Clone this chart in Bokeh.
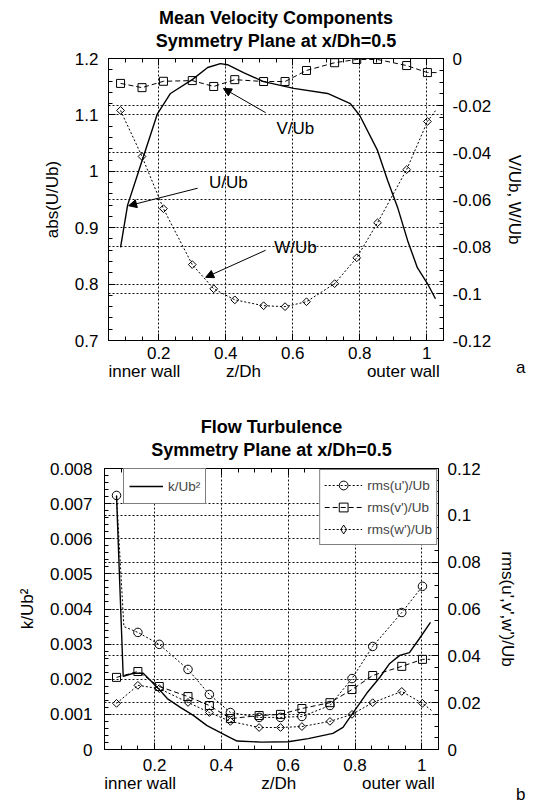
import numpy as np
from bokeh.plotting import figure
from bokeh.models import (Range1d, LinearAxis, FixedTicker, CustomJSTickFormatter, Grid, Title,
                          Arrow, NormalHead, Legend, LegendItem, Div, Label)
from bokeh.layouts import column, row
from bokeh.embed import file_html
from bokeh.resources import INLINE

FONT = "Liberation Sans"

# ---------------- data: top chart (mean velocities) ----------------
z_pts = [0.086, 0.150, 0.214, 0.300, 0.364, 0.427, 0.513, 0.577, 0.641, 0.725, 0.791, 0.853, 0.940, 1.002]
v_ub = [-0.0106, -0.0124, -0.0097, -0.0094, -0.0119, -0.0090, -0.0098, -0.0098, -0.0051, -0.0018,
        -0.0004, -0.0004, -0.0030, -0.0060]
w_ub = [-0.0221, -0.0417, -0.0639, -0.0877, -0.0980, -0.1027, -0.1052, -0.1056, -0.1035, -0.0958,
        -0.0848, -0.0699, -0.0473, -0.0268]
v_tail = (1.030, -0.0060)
w_tail = (1.026, -0.0222)

z_u = [0.086, 0.107, 0.140, 0.196, 0.235, 0.301, 0.346, 0.384, 0.405, 0.453, 0.513, 0.603, 0.704,
       0.772, 0.800, 0.853, 0.883, 0.913, 0.943, 0.972, 1.002, 1.026]
u_ub = [0.865, 0.940, 1.000, 1.102, 1.138, 1.163, 1.184, 1.191, 1.189, 1.175, 1.159, 1.147, 1.138,
        1.120, 1.099, 1.037, 0.984, 0.936, 0.877, 0.829, 0.801, 0.774]

# ---------------- data: bottom chart (turbulence) ----------------
rms_u = [0.1085, 0.0500, 0.0449, 0.0342, 0.0235, 0.0158, 0.0137, 0.0137, 0.0141, 0.0188, 0.0303,
         0.0440, 0.0585, 0.0697]
rms_v = [0.0308, 0.0333, 0.0269, 0.0226, 0.0188, 0.0132, 0.0145, 0.0150, 0.0175, 0.0200, 0.0256,
         0.0316, 0.0355, 0.0385]
rms_w = [0.0197, 0.0274, 0.0260, 0.0201, 0.0158, 0.0120, 0.0094, 0.0094, 0.0098, 0.0120, 0.0150,
         0.0200, 0.0248, 0.0197]
u_knee = (0.108, 0.0525)
v_tail2 = (1.025, 0.0385)
w_tail2 = (1.029, 0.0167)

z_k = [0.086, 0.106, 0.137, 0.166, 0.187, 0.211, 0.238, 0.277, 0.316, 0.357, 0.426, 0.447, 0.520,
       0.600, 0.660, 0.734, 0.764, 0.793, 0.835, 0.874, 0.904, 0.934, 0.963, 0.993, 1.026]
k_ub2 = [0.00722, 0.00208, 0.00217, 0.00217, 0.00197, 0.00174, 0.00145, 0.00120, 0.00097, 0.00068,
         0.00034, 0.00024, 0.00021, 0.00022, 0.00031, 0.00046, 0.00063, 0.00103, 0.00160, 0.00205,
         0.00245, 0.00268, 0.00276, 0.00316, 0.00362]

# ---------------- ticks / tick labels ----------------
x_ticks = [0.2, 0.4, 0.6, 0.8, 1.0]
top_left_ticks = [0.7, 0.8, 0.9, 1.0, 1.1, 1.2]
top_right_ticks = [-0.12, -0.1, -0.08, -0.06, -0.04, -0.02, 0.0]
bot_left_ticks = [0.0, 0.001, 0.002, 0.003, 0.004, 0.005, 0.006, 0.007, 0.008]
bot_right_ticks = [0.0, 0.02, 0.04, 0.06, 0.08, 0.1, 0.12]
wall_names = ["inner wall", "z/Dh", "outer wall"]
wall_pos_top = [0.157, 0.453, 0.930]
wall_pos_bot = [0.157, 0.572, 0.930]


def minors(lo, hi, step):
    n = int(round((hi - lo) / step))
    return [round(lo + i * step, 8) for i in range(n + 1)]


fmt_code = "return String(parseFloat(tick.toFixed(6)));"


def style_axis(ax, size="17px", standoff=10, labels=True):
    ax.major_tick_in = 7
    ax.major_tick_out = 0
    ax.minor_tick_in = 4
    ax.minor_tick_out = 0
    ax.axis_line_color = "black"
    ax.major_tick_line_color = "black"
    ax.minor_tick_line_color = "black"
    ax.major_label_text_font = FONT
    ax.major_label_text_color = "black"
    ax.major_label_standoff = standoff
    ax.axis_label_text_font = FONT
    ax.axis_label_text_font_size = "17px"
    ax.axis_label_text_font_style = "normal"
    ax.axis_label_text_color = "black"
    if labels:
        ax.major_label_text_font_size = size
    else:
        ax.major_label_text_font_size = "0px"
        ax.major_label_standoff = 0


def make_frame(p, xt, lt, rt, right_range, left_label, right_label,
               xstand, lstand, rstand, l_lab_stand, r_lab_stand, wall_pos, wall_stand,
               title_lines, title_offset, title_stands):
    p.extra_y_ranges = {"right": right_range, "hidden": Range1d(10.0, 11.0)}
    ax = p.xaxis[0]
    ax.ticker = xt
    ax.formatter = CustomJSTickFormatter(code=fmt_code)
    style_axis(ax, standoff=xstand)
    aw = LinearAxis(ticker=FixedTicker(ticks=wall_pos, minor_ticks=[]),
                    formatter=CustomJSTickFormatter(args=dict(names=wall_names), code="return names[index];"))
    style_axis(aw, standoff=wall_stand)
    aw.axis_line_color = None
    aw.major_tick_line_color = None
    aw.minor_tick_line_color = None
    p.add_layout(aw, "below")
    ay = p.yaxis[0]
    ay.ticker = lt
    ay.formatter = CustomJSTickFormatter(code=fmt_code)
    ay.axis_label = left_label
    style_axis(ay, standoff=lstand)
    ay.axis_label_standoff = l_lab_stand
    ar = LinearAxis(y_range_name="right", ticker=rt, formatter=CustomJSTickFormatter(code=fmt_code),
                    axis_label=right_label)
    style_axis(ar, standoff=rstand)
    ar.axis_label_standoff = r_lab_stand
    p.add_layout(ar, "right")
    # mirrored tick marks along the top edge (no labels)
    at = LinearAxis(ticker=xt, formatter=CustomJSTickFormatter(code="return '';"))
    style_axis(at, labels=False)
    p.add_layout(at, "above")
    for text, st in zip(reversed(title_lines), reversed(title_stands)):
        p.add_layout(Title(text=text, align="center", offset=title_offset, standoff=st,
                           text_font=FONT, text_font_size="18px", text_font_style="bold",
                           text_color="black"), "above")
    for g in (p.xgrid[0], p.ygrid[0]):
        g.grid_line_color = "#111111"
        g.grid_line_dash = "2 2"
        g.grid_line_width = 1
    p.xgrid[0].ticker = xt
    p.ygrid[0].ticker = lt
    p.add_layout(Grid(dimension=1, ticker=rt, y_range_name="right",
                      grid_line_color="#111111", grid_line_dash="2 2", grid_line_width=1))
    p.outline_line_color = "black"
    p.outline_line_width = 1
    p.background_fill_color = "white"
    p.border_fill_color = "white"


def lab(p, x, y, text):
    p.add_layout(Label(x=x, y=y, text=text, text_font=FONT, text_font_size="17px",
                       text_color="black", text_align="center", text_baseline="middle"))


# ================= TOP FIGURE =================
p1 = figure(width=530, height=406, output_backend="svg", toolbar_location=None,
            x_range=Range1d(0.05, 1.05), y_range=Range1d(0.7, 1.2),
            min_border_left=108, min_border_right=87, min_border_top=58, min_border_bottom=66)
xt1 = FixedTicker(ticks=x_ticks, minor_ticks=minors(0.05, 1.05, 0.05))
lt1 = FixedTicker(ticks=top_left_ticks, minor_ticks=minors(0.7, 1.2, 0.02))
rt1 = FixedTicker(ticks=top_right_ticks, minor_ticks=minors(-0.12, 0.0, 0.005))
make_frame(p1, xt1, lt1, rt1, Range1d(-0.12, 0.0), "abs(U/Ub)", "V/Ub, W/Ub",
           xstand=6, lstand=10, rstand=9, l_lab_stand=10, r_lab_stand=11,
           wall_pos=wall_pos_top, wall_stand=0,
           title_lines=["Mean Velocity Components", "Symmetry Plane at x/Dh=0.5"],
           title_offset=-14, title_stands=[-14, 16])

p1.line(z_u, u_ub, line_color="black", line_width=1.4)
p1.line(z_pts + [v_tail[0]], v_ub + [v_tail[1]], y_range_name="right", line_color="black",
        line_width=1, line_dash="5 3")
p1.scatter(z_pts, v_ub, y_range_name="right", marker="square", size=8, fill_color=None,
           line_color="black", line_width=1)
p1.line(z_pts + [w_tail[0]], w_ub + [w_tail[1]], y_range_name="right", line_color="black",
        line_width=1, line_dash="2 2")
p1.scatter(z_pts, w_ub, y_range_name="right", marker="square", angle=np.pi / 4, size=5.5,
           fill_color=None, line_color="black", line_width=1)

arrows_top = [(0.316, 0.970, 0.110, 0.939), (0.519, 1.104, 0.393, 1.147), (0.519, 0.860, 0.340, 0.812)]
for xs, ys, xe, ye in arrows_top:
    p1.add_layout(Arrow(end=NormalHead(size=8, fill_color="black", line_color="black"),
                        x_start=xs, y_start=ys, x_end=xe, y_end=ye, line_color="black", line_width=1))
lab(p1, 0.408, 0.981, "U/Ub")
lab(p1, 0.608, 1.076, "V/Ub")
lab(p1, 0.608, 0.865, "W/Ub")

# ================= BOTTOM FIGURE =================
p2 = figure(width=530, height=400, output_backend="svg", toolbar_location=None,
            x_range=Range1d(0.05, 1.05), y_range=Range1d(0.0, 0.008),
            min_border_left=104, min_border_right=92, min_border_top=62, min_border_bottom=57)
xt2 = FixedTicker(ticks=x_ticks, minor_ticks=minors(0.05, 1.05, 0.05))
lt2 = FixedTicker(ticks=bot_left_ticks, minor_ticks=minors(0.0, 0.008, 0.0002))
rt2 = FixedTicker(ticks=bot_right_ticks, minor_ticks=minors(0.0, 0.12, 0.005))
make_frame(p2, xt2, lt2, rt2, Range1d(0.0, 0.12), "k/Ub²", "rms(u',v',w')/Ub",
           xstand=9, lstand=12, rstand=9, l_lab_stand=10, r_lab_stand=14,
           wall_pos=wall_pos_bot, wall_stand=0,
           title_lines=["Flow Turbulence", "Symmetry Plane at x/Dh=0.5"],
           title_offset=0, title_stands=[-16, 18])

rk = p2.line(z_k, k_ub2, line_color="black", line_width=1.4)
ru_l = p2.line([z_pts[0], u_knee[0]] + z_pts[1:], [rms_u[0], u_knee[1]] + rms_u[1:],
               y_range_name="right", line_color="black", line_width=1, line_dash="2 2")
ru_m = p2.scatter(z_pts, rms_u, y_range_name="right", marker="circle", size=8.5, fill_color=None,
                  line_color="black", line_width=1)
rv_l = p2.line(z_pts + [v_tail2[0]], rms_v + [v_tail2[1]], y_range_name="right", line_color="black",
               line_width=1, line_dash="5 3")
rv_m = p2.scatter(z_pts, rms_v, y_range_name="right", marker="square", size=8, fill_color=None,
                  line_color="black", line_width=1)
rw_l = p2.line(z_pts + [w_tail2[0]], rms_w + [w_tail2[1]], y_range_name="right", line_color="black",
               line_width=1, line_dash="2 2")
rw_m = p2.scatter(z_pts, rms_w, y_range_name="right", marker="square", angle=np.pi / 4, size=5.5,
                  fill_color=None, line_color="black", line_width=1)
# legend key for the diamonds: same series on an off-screen range, only its legend symbol shows
rw_key = p2.scatter(z_pts, rms_w, y_range_name="hidden", marker="diamond", size=10, fill_color=None,
                    line_color="black", line_width=1)

leg_k = Legend(items=[LegendItem(label="k/Ub²", renderers=[rk])], location=(19, 245),
               label_text_font=FONT, label_text_font_size="13.5px", border_line_color="black",
               border_line_width=1.5, padding=5, spacing=0, glyph_width=34, glyph_height=24,
               label_height=24, label_standoff=5, background_fill_alpha=1.0, margin=0)
leg_r = Legend(items=[LegendItem(label="rms(u')/Ub", renderers=[ru_l, ru_m]),
                      LegendItem(label="rms(v')/Ub", renderers=[rv_l, rv_m]),
                      LegendItem(label="rms(w')/Ub", renderers=[rw_l, rw_key])],
               location="top_right", margin=1,
               label_text_font=FONT, label_text_font_size="13.5px", border_line_color="black",
               border_line_width=1.5, padding=4, spacing=-6, glyph_width=38, glyph_height=22,
               label_height=15, label_standoff=5, background_fill_alpha=1.0)
p2.add_layout(leg_k)
p2.add_layout(leg_r)


def side_letter(letter, height, top_pad):
    html = ('<div style="margin-left:-14px;padding-top:%dpx;font-family:\'Liberation Sans\';'
            'font-size:17px;line-height:20px;color:black;">%s</div>' % (top_pad, letter))
    return Div(text=html, width=14, height=height, margin=(0, 0, 0, 0))


da = side_letter("a", 406, 358)
db = side_letter("b", 400, 379)

page = column(row(p1, da), row(p2, db))
open("out.html", "w").write(file_html(page, INLINE))
